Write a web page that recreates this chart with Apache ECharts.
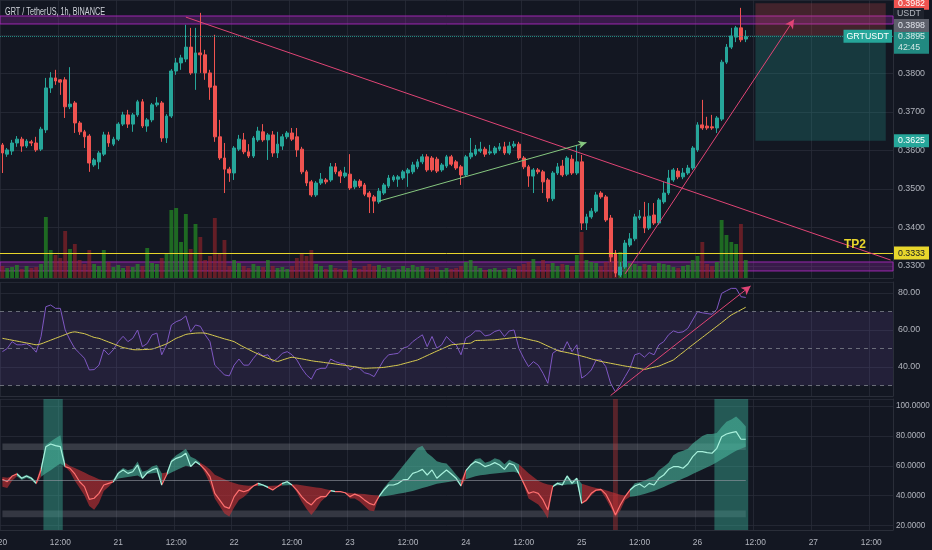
<!DOCTYPE html>
<html><head><meta charset="utf-8">
<script src="https://cdn.jsdelivr.net/npm/echarts@6/dist/echarts.min.js"></script>
<style>html,body{margin:0;padding:0;background:#131722;}#c{width:932px;height:550px;}</style>
</head><body><div id="c"></div>
<script>
const dayLabels = ['20','21','22','23','24','25','26','27'];
const slotCount = 185;

// [open, close, low, high]
const candles = [
[0.3614,0.3593,0.3541,0.3619],[0.3590,0.3601,0.3583,0.3606],[0.3598,0.3619,0.3588,0.3627],[0.3619,0.3629,0.3609,0.3637],[0.3629,0.3611,0.3596,0.3635],
[0.3611,0.3624,0.3606,0.3629],[0.3622,0.3619,0.3611,0.3627],[0.3619,0.3601,0.3596,0.3635],[0.3603,0.3655,0.3598,0.3661],[0.3653,0.3762,0.3645,0.3788],
[0.3762,0.3788,0.3749,0.3803],[0.3788,0.3780,0.3770,0.3809],[0.3783,0.3777,0.3744,0.3785],[0.3783,0.3713,0.3684,0.3790],[0.3713,0.3720,0.3707,0.3816],
[0.3723,0.3671,0.3645,0.3728],[0.3671,0.3648,0.3640,0.3676],[0.3648,0.3635,0.3606,0.3653],[0.3637,0.3567,0.3544,0.3642],[0.3562,0.3575,0.3557,0.3580],
[0.3570,0.3593,0.3551,0.3598],[0.3590,0.3640,0.3585,0.3648],[0.3640,0.3619,0.3609,0.3648],[0.3616,0.3629,0.3611,0.3635],[0.3629,0.3668,0.3624,0.3673],
[0.3668,0.3692,0.3663,0.3700],[0.3692,0.3668,0.3658,0.3705],[0.3668,0.3692,0.3648,0.3697],[0.3692,0.3726,0.3687,0.3731],[0.3726,0.3663,0.3658,0.3733],
[0.3663,0.3679,0.3648,0.3684],[0.3679,0.3718,0.3673,0.3723],[0.3718,0.3723,0.3713,0.3738],[0.3723,0.3632,0.3622,0.3728],[0.3632,0.3689,0.3619,0.3694],
[0.3689,0.3806,0.3684,0.3811],[0.3806,0.3827,0.3796,0.3840],[0.3827,0.3840,0.3809,0.3848],[0.3837,0.3868,0.3829,0.3926],[0.3868,0.3801,0.3796,0.3918],
[0.3801,0.3853,0.3757,0.3918],[0.3853,0.3848,0.3801,0.3957],[0.3848,0.3801,0.3783,0.3861],[0.3801,0.3764,0.3731,0.3809],[0.3767,0.3635,0.3622,0.3900],
[0.3635,0.3580,0.3575,0.3679],[0.3580,0.3551,0.3489,0.3619],[0.3551,0.3541,0.3518,0.3557],[0.3541,0.3606,0.3523,0.3611],[0.3603,0.3629,0.3598,0.3640],
[0.3627,0.3596,0.3590,0.3645],[0.3596,0.3585,0.3580,0.3616],[0.3585,0.3632,0.3580,0.3637],[0.3627,0.3650,0.3622,0.3661],[0.3648,0.3627,0.3622,0.3668],
[0.3627,0.3640,0.3575,0.3645],[0.3640,0.3593,0.3583,0.3650],[0.3593,0.3616,0.3580,0.3648],[0.3611,0.3635,0.3601,0.3642],[0.3635,0.3645,0.3629,0.3650],
[0.3645,0.3629,0.3624,0.3658],[0.3635,0.3601,0.3583,0.3658],[0.3603,0.3544,0.3538,0.3609],[0.3544,0.3515,0.3507,0.3549],[0.3518,0.3484,0.3479,0.3523],
[0.3484,0.3515,0.3479,0.3520],[0.3515,0.3525,0.3510,0.3541],[0.3523,0.3518,0.3512,0.3528],[0.3523,0.3557,0.3518,0.3567],[0.3557,0.3544,0.3538,0.3567],
[0.3544,0.3533,0.3515,0.3549],[0.3533,0.3541,0.3528,0.3557],[0.3538,0.3502,0.3497,0.3590],[0.3505,0.3520,0.3499,0.3525],[0.3520,0.3507,0.3502,0.3525],
[0.3510,0.3486,0.3481,0.3515],[0.3489,0.3479,0.3437,0.3494],[0.3479,0.3468,0.3437,0.3484],[0.3466,0.3494,0.3461,0.3502],[0.3489,0.3510,0.3484,0.3515],
[0.3507,0.3528,0.3502,0.3536],[0.3523,0.3531,0.3518,0.3536],[0.3525,0.3531,0.3505,0.3536],[0.3528,0.3544,0.3523,0.3549],[0.3541,0.3549,0.3505,0.3554],
[0.3544,0.3562,0.3538,0.3570],[0.3557,0.3570,0.3551,0.3577],[0.3570,0.3583,0.3564,0.3590],[0.3583,0.3549,0.3544,0.3590],[0.3580,0.3549,0.3544,0.3585],
[0.3577,0.3546,0.3541,0.3583],[0.3549,0.3562,0.3544,0.3567],[0.3559,0.3583,0.3554,0.3588],[0.3583,0.3564,0.3559,0.3588],[0.3570,0.3554,0.3549,0.3575],
[0.3557,0.3536,0.3510,0.3562],[0.3536,0.3583,0.3531,0.3588],[0.3583,0.3593,0.3577,0.3632],[0.3590,0.3603,0.3585,0.3614],[0.3598,0.3603,0.3593,0.3622],
[0.3603,0.3590,0.3583,0.3609],[0.3593,0.3596,0.3588,0.3614],[0.3593,0.3606,0.3588,0.3611],[0.3603,0.3609,0.3598,0.3619],[0.3609,0.3593,0.3588,0.3622],
[0.3593,0.3611,0.3588,0.3622],[0.3611,0.3616,0.3606,0.3624],[0.3616,0.3580,0.3575,0.3622],[0.3580,0.3557,0.3551,0.3585],[0.3557,0.3533,0.3505,0.3562],
[0.3533,0.3549,0.3489,0.3554],[0.3549,0.3544,0.3538,0.3554],[0.3544,0.3518,0.3489,0.3549],[0.3523,0.3476,0.3466,0.3528],[0.3474,0.3541,0.3468,0.3546],
[0.3541,0.3557,0.3536,0.3567],[0.3559,0.3536,0.3531,0.3575],[0.3538,0.3580,0.3533,0.3585],[0.3577,0.3541,0.3536,0.3588],[0.3541,0.3570,0.3536,0.3614],
[0.3570,0.3411,0.3393,0.3588],[0.3411,0.3427,0.3393,0.3435],[0.3427,0.3442,0.3422,0.3450],[0.3442,0.3484,0.3437,0.3492],[0.3489,0.3479,0.3474,0.3494],
[0.3479,0.3419,0.3414,0.3484],[0.3424,0.3323,0.3310,0.3432],[0.3333,0.3281,0.3271,0.3341],[0.3276,0.3297,0.3271,0.3310],[0.3297,0.3359,0.3292,0.3367],
[0.3354,0.3370,0.3349,0.3385],[0.3370,0.3427,0.3364,0.3435],[0.3424,0.3429,0.3419,0.3445],[0.3427,0.3398,0.3385,0.3466],[0.3398,0.3429,0.3393,0.3463],
[0.3432,0.3411,0.3406,0.3463],[0.3411,0.3471,0.3406,0.3476],[0.3466,0.3489,0.3461,0.3518],[0.3489,0.3528,0.3484,0.3549],[0.3523,0.3549,0.3518,0.3554],
[0.3546,0.3531,0.3525,0.3554],[0.3531,0.3541,0.3525,0.3554],[0.3541,0.3554,0.3536,0.3562],[0.3554,0.3606,0.3549,0.3611],[0.3601,0.3666,0.3596,0.3673],
[0.3666,0.3658,0.3653,0.3731],[0.3663,0.3658,0.3653,0.3687],[0.3661,0.3658,0.3653,0.3692],[0.3658,0.3684,0.3645,0.3689],[0.3681,0.3829,0.3676,0.3835],
[0.3829,0.3868,0.3824,0.3876],[0.3868,0.3897,0.3863,0.3918],[0.3894,0.3918,0.3881,0.3923],[0.3918,0.3887,0.3881,0.3970],[0.3889,0.3895,0.3881,0.3912]
];

const volumes = [
120,100,110,130,90,120,100,110,140,610,
280,230,200,470,290,340,180,140,280,140,
120,280,160,110,130,100,120,110,140,120,
300,150,140,200,250,680,700,360,640,290,
540,410,180,220,600,250,380,120,180,150,
120,100,140,120,110,180,120,100,110,90,
120,200,240,220,280,140,120,90,130,100,
90,80,180,100,90,120,140,120,130,100,
110,80,90,120,100,130,110,120,100,90,
110,80,100,90,100,120,160,180,120,100,
80,90,100,80,90,100,90,120,140,160,
190,120,180,140,150,120,140,130,120,230,
460,180,160,150,120,160,390,230,260,220,
150,140,120,140,130,120,150,140,130,110,
100,120,130,180,220,360,140,120,160,580,
430,360,340,540,180
];

const rsi = [
48.3,50,53.7,52,52,52.5,51,48,56.4,72.6,
73.5,71.7,71.7,60,54.6,50,47.4,44.7,38.4,38.6,
41,49.4,46.6,49.4,53.7,56.6,53.7,55.5,60,51,
52.7,57.4,58.3,46.6,52,62.7,64.5,65.5,67.6,59,
62.7,62,57.4,53.7,41,38.4,35.7,35.2,41,44.3,
41,41,44.7,47.8,46,46.6,42.9,44.7,47.4,48.3,
46.6,43.8,39.3,35.7,33.4,38.4,39.3,39.3,44.3,42.9,
42,41.6,38.4,40.2,39.3,36.9,36.2,34.8,39.3,43.8,
46.6,47,47.4,50.2,51,53.7,55.6,57.4,51,56.5,
50.2,52,56.5,53.7,52,46.6,55.6,57.1,59.5,59.5,
56.8,57.4,59.2,60,56.5,59.5,60,50,44.7,40.2,
42.9,41,36.6,31.2,47.4,49.3,48.3,53.7,48.3,52,
34,35.7,38.4,43.8,43.8,40.2,31.2,26.6,30.3,34.8,
39.3,46.6,47.4,45.3,47.8,46.6,52,53.7,57.4,59.5,
58.6,59,60.9,65.4,69.9,69.3,68.9,68.5,71.2,79.8,
81.2,82.5,82.5,78,77.6
];

const rsiMA = [
55.5,55,54.5,54,53.5,53,52.5,52,52.5,53.5,
54.5,55.5,56.5,57.5,58.5,59,58.5,58,57,56,
55.5,54.5,53.5,52.5,51.5,50.5,50,49.4,49.3,49.4,
49.5,49.7,50.5,51.5,52.5,54,55.5,56.5,57.6,58,
58.3,58.4,58.3,57.6,56.8,56,55.2,54.5,53.7,52.2,
50.8,49.5,48.2,47,45.8,44.7,43.8,43,43.8,44.6,
45.3,44.8,44.4,43.9,43.4,43,42.7,42.3,42,41.6,
41.2,40.9,40.5,40.1,39.7,39.3,39.4,39.5,39.6,39.8,
40.2,40.6,41,41.7,42.4,43.1,43.8,45,46.2,47.4,
48.6,49.7,50.9,52,52.2,52.5,52.7,52.9,54.3,54.4,
54.5,54.6,54.7,55,55.3,55.6,55.9,56.1,55.5,54.9,
54.3,53.7,52.5,51.3,50.1,48.9,48.3,47.8,47.2,46.6,
45.9,45.2,44.4,43.7,43,42.5,42,41.5,41,40.5,
40.1,39.6,39.2,38.7,39.3,39.9,40.5,41.6,42.7,43.8,
45.9,47.9,50,52,54,56,58,60,62,64,
66.1,68.1,69.5,70.9,72.3
];

const osc = [
50.9,49.3,53.1,54.5,51.6,53.1,51.6,48.2,57.2,72.8,
74.6,73.5,72.8,59.4,58.3,54.5,49.3,46,37.5,38.2,
41.5,47.1,48.2,49.3,54.9,57.2,54.9,56,60.5,51.6,
55.4,57.2,58.3,47.1,53.8,62.8,65,66.1,68.4,59.4,
62.8,60.5,57.2,52.7,41.5,37.1,32.6,31.4,39.3,43.7,
42.6,43.7,46.4,48.2,47.1,45.5,43.7,46,48.2,49.3,
47.1,43.7,39.3,35.9,33.7,37.5,39.3,39.3,43.3,42.6,
42.6,41.9,39.3,41,39.7,37.1,34.8,33.7,39.3,43.7,
47.1,47.1,48.2,50.5,50.9,54.9,56,57.6,53.8,57.2,
51.6,54.5,57.2,54.5,51.6,46.4,56.7,60.5,62.8,61.6,
59.4,60.5,62.1,60.5,57.6,61.6,60.5,54.9,48.2,41.5,
42.6,41.5,37.1,30.3,46,48.2,47.1,53.1,48.2,51.6,
34.8,37.1,41.5,43.7,44.2,41,34.8,27,33.7,39.3,
43.7,46.4,47.8,45.5,48.2,47.1,51.6,53.8,57.6,59.4,
59.4,58.3,61.2,66.1,69.5,69.5,68.8,68.4,71.7,79.5,
81.3,82.2,82.9,77.8,77.8
];

const oscLo = [
46,45,50,53,50.5,52,50.5,47.5,52.7,54.9,
57,59.4,61.6,59.4,56,50,45,40,33,30.5,
35,43,46,49.3,51.5,52,52.5,53,53.5,51.6,
54.5,55,55.3,47.1,53.8,55.5,57,58.5,60,59.4,
62,60.5,55,48,38,33,28,26,32,37,
39,42,46.4,46.5,46.5,45.5,43.7,46,46.8,47,
47.1,42,36,31,27,31,36,39,43,42.6,
42.5,41.9,38,38,36,33,30,29.5,39.3,39.6,
40,40.6,41.2,41.8,42.4,43,44,45,46,47,
48,48.5,49,49.5,50,46.4,51,52,53,53.6,
54,54.4,54.8,55.2,55.5,55.8,56,54.9,47,38,
36,34,30,24.7,46,47,47,47.5,47.5,48,
34.8,36,40,43,43,38,32,25.8,30,37,
39.2,39.5,40.3,41.1,42,43,44.4,45.8,47.2,48.6,
50,51.4,52.8,54.5,56,57.5,59,60.5,62.4,64.3,
66.2,68.2,70,71.5,72.8
];

const oscHi = [
52.5,52,53,55.5,52.5,54,52.5,49.5,60,74,
76.2,78.4,80.5,62,59.8,58.5,57,55.5,53.8,52.5,
50.9,50.3,49.8,51,56,58.5,57,58,62.8,56,
57,59.5,60.5,55,55.5,64,67,69,71.5,66,
64.5,62,60,57.5,54,52.5,51,49.5,48.5,47.5,
47,46.6,46.8,48.5,47.5,46.5,46.6,46.7,48.5,50,
47.5,47.5,47,46.5,46,45.5,45,44.2,43.5,43,
42.8,42.2,41.7,41.4,41.2,41,40.6,40.2,40,45,
49,52,56,60,64,68,72,73.5,68.5,66,
63,62,61.5,58,54,50.5,56.7,61,64.5,65,
62,63,65,64,61,64,62.5,61,58,55,
52.5,50,48.5,47.5,47,49,49,53.8,50,52,
48,47,46,45,44.5,43.5,42.5,41.5,40.5,40,
44,48.2,49,50,51.6,53,57,59.4,62,67,
69,70,71.5,75,77.5,80,81.3,81.3,82,86,
89.6,91,93,90,86.3
];

// [fromIndex, toIndex, direction] : 1 = bullish, 0 = bearish
const oscRegimes = [
[0,2.5,0],[2.5,6.5,1],[6.5,7.5,0],[7.5,13,1],[13,22.5,0],[22.5,32.5,1],[32.5,33.5,0],
[33.5,40.5,1],[40.5,52.5,0],[52.5,54.5,1],[54.5,57.5,0],[57.5,59.5,1],[59.5,67.5,0],
[67.5,68.5,1],[68.5,77.5,0],[77.5,94.5,1],[94.5,95.5,0],[95.5,106.5,1],[106.5,113.5,0],
[113.5,119.5,1],[119.5,129.5,0],[129.5,200,1]
];
// highlighted bars in the oscillator pane [from, to, direction]
const oscHighlights = [[9,12,1],[127,127,0],[148,154,1]];

// drawings (bar index, price)
const downTrend = [[38,0.3946],[184,0.3315]];
const upTrend = [[129,0.3279],[164,0.3940]];
const channelLine = [[78,0.3468],[121,0.3620]];
const rsiTrend = [[126,24.6],[155,83.8]];
const topZone = [0.39281,0.39488];
const bottomZone = [0.32866,0.33099];
const shortBox = {from:156, to:183, stop:0.3982, entry:0.3898, target:0.3625};
const lastPrice = 0.3895, tp2 = 0.3333;

// ---- fonts: pick a narrow face if really installed, then size text to the reference widths ----
const mctx = document.createElement('canvas').getContext('2d');
function textW(str, px, font) { mctx.font = px + 'px ' + font; return mctx.measureText(str).width; }
const baseW = textW('GRT / TetherUS 0.3895', 20, "'Liberation Sans'");
const narrowName = ['Liberation Sans Narrow', 'Arial Narrow', 'DejaVu Sans Condensed']
  .find(n => textW('GRT / TetherUS 0.3895', 20, "'" + n + "', 'Liberation Sans'") < 0.9 * baseW);
const FONT = narrowName ? "'" + narrowName + "', 'Liberation Sans', sans-serif" : "'Liberation Sans', Arial, sans-serif";
function fitSize(sample, targetW, maxPx) { return Math.min(maxPx, +(10 * targetW / textW(sample, 10, FONT)).toFixed(2)); }
const FS = {
  ax: fitSize('0.3800', 27, 10.5),
  osc: fitSize('100.0000', 34, 10.5),
  tag: fitSize('0.3800', 27, 10.5),
  x: fitSize('12:00', 21, 11),
  tp: fitSize('TP2', 22, 15),
  sx: Math.min(1, 100 / textW('GRT / TetherUS, 1h, BINANCE', 11, FONT))
};

const categories = [];
for (let i = 0; i < slotCount; i++) {
  const d = dayLabels[Math.floor(i / 24)], h = i % 24;
  categories.push(h === 0 ? d : (h === 12 ? '12:00' : d + ' ' + h + ':00'));
}

const UP = '#26a69a', DN = '#ef5350';
const AX = '#b2b5be', GRIDC = 'rgba(42,46,57,0.75)', SEP = '#2a2e39';
const HIDE = 'rgba(0,0,0,0)';
const every12 = (i) => i % 12 === 0;

function xAx(gi, showLabel) {
  return {
    type: 'category', gridIndex: gi, data: categories, boundaryGap: true,
    axisLine: { show: gi !== 1, lineStyle: { color: SEP } },
    axisTick: { show: false },
    axisLabel: { show: showLabel, interval: every12, color: AX, fontSize: FS.x, fontFamily: FONT, margin: 9 },
    splitLine: { show: gi !== 1, interval: every12, lineStyle: { color: GRIDC } }
  };
}
function yAx(gi, min, max, step, digits, fs, margin) {
  return {
    type: 'value', gridIndex: gi, position: 'right', min: min, max: max,
    minInterval: step, maxInterval: step, splitNumber: Math.round((max - min) / step),
    axisLine: { show: true, lineStyle: { color: SEP } }, axisTick: { show: false },
    axisLabel: { color: AX, fontSize: fs, fontFamily: FONT, margin: margin, showMinLabel: false, showMaxLabel: false,
      formatter: (v) => v.toFixed(digits) },
    splitLine: { show: true, lineStyle: { color: GRIDC } }
  };
}

function tag(value, text, bg, fg, extra) {
  return {
    yAxis: value,
    lineStyle: { color: HIDE, width: 1 },
    label: Object.assign({ show: true, position: 'end', formatter: text, backgroundColor: bg, color: fg,
      fontFamily: FONT, fontSize: FS.tag, padding: [2, 3], distance: 1 }, extra || {})
  };
}

const volData = volumes.map((v, i) => ({
  value: v,
  itemStyle: { color: candles[i][1] >= candles[i][0] ? 'rgba(34,139,34,0.72)' : 'rgba(150,36,40,0.62)' }
}));
const bandData = oscHi.map((h, i) => +(h - oscLo[i]).toFixed(2));

const fillPieces = oscRegimes.map(r => ({ gte: r[0], lt: r[1], color: r[2] ? 'rgba(72,180,155,0.62)' : 'rgba(196,48,52,0.62)' }));
const linePieces = oscRegimes.map(r => ({ gte: r[0], lt: r[1], color: r[2] ? '#a8f0dc' : '#ff6f6f' }));

const trendStyle = { color: '#e04475', width: 1, type: 'solid' };
const gridBase = { left: 0, width: 893, containLabel: false, outerBoundsMode: 'none' };
const YEL = '#e8d62c';

const option = {
  backgroundColor: '#131722',
  animation: false,
  graphic: [
    { type: 'text', left: 5, top: 6, z: 100, scaleX: FS.sx,
      style: { text: 'GRT / TetherUS, 1h, BINANCE', fill: '#d1d4dc', font: '11px ' + FONT } },
    { type: 'text', right: 8, top: 8, z: 100,
      style: { text: 'USDT', fill: AX, font: FS.tag + 'px ' + FONT, backgroundColor: '#1e222d', padding: [1, 3] } }
  ],
  grid: [
    Object.assign({ top: 0, height: 278 }, gridBase),
    Object.assign({ top: 0, height: 278 }, gridBase),
    Object.assign({ top: 282, height: 114 }, gridBase),
    Object.assign({ top: 399, height: 131 }, gridBase)
  ],
  xAxis: [xAx(0, false), xAx(1, false), xAx(2, false), xAx(3, true)],
  yAxis: [
    yAx(0, 0.32683, 0.39904, 0.01, 4, FS.ax, 5),
    { type: 'value', gridIndex: 1, show: false, min: 0, max: 2780, splitLine: { show: false } },
    yAx(2, 24.32, 85.95, 20, 2, FS.ax, 5),
    yAx(3, 16.9, 104.8, 20, 4, FS.osc, 3)
  ],
  visualMap: [
    { show: false, type: 'piecewise', seriesIndex: 6, dimension: 0, pieces: fillPieces },
    { show: false, type: 'piecewise', seriesIndex: 7, dimension: 0, pieces: linePieces }
  ],
  series: [
    {
      type: 'candlestick', name: 'GRTUSDT', xAxisIndex: 0, yAxisIndex: 0, data: candles, z: 3,
      barWidth: '68%', clip: false,
      itemStyle: { color: UP, color0: DN, borderColor: UP, borderColor0: DN, borderWidth: 1 },
      markArea: {
        silent: true,
        data: [
          [{ yAxis: topZone[0], itemStyle: { color: 'rgba(156,39,176,0.28)', borderColor: '#9c27b0', borderWidth: 1 } }, { yAxis: topZone[1] }],
          [{ yAxis: bottomZone[0], itemStyle: { color: 'rgba(156,39,176,0.28)', borderColor: '#9c27b0', borderWidth: 1 } }, { yAxis: bottomZone[1] }],
          [{ xAxis: shortBox.from, yAxis: shortBox.stop, itemStyle: { color: 'rgba(239,83,80,0.22)' } }, { xAxis: shortBox.to, yAxis: shortBox.entry }],
          [{ xAxis: shortBox.from, yAxis: shortBox.entry, itemStyle: { color: 'rgba(38,166,154,0.24)' } }, { xAxis: shortBox.to, yAxis: shortBox.target }]
        ]
      },
      markLine: {
        silent: true, symbol: ['none', 'none'], label: { show: false }, precision: 6,
        data: [
          { yAxis: lastPrice, lineStyle: { color: UP, type: 'dotted', width: 1, opacity: 0.8 },
            label: { show: true, position: 'end', formatter: lastPrice.toFixed(4) + '\n42:45', backgroundColor: UP, color: '#fff',
              fontFamily: FONT, fontSize: FS.tag, lineHeight: 11, padding: [1, 4], distance: 1, offset: [0, 5] } },
          tag(lastPrice, 'GRTUSDT', UP, '#fff', { position: 'insideEndTop', distance: 1, offset: [0, 7], padding: [2, 3] }),
          tag(0.3898, '0.3898', '#5d606b', '#e0e3eb', { offset: [0, -10], padding: [2, 4] }),
          tag(shortBox.target, shortBox.target.toFixed(4), UP, '#fff', { padding: [2, 4] }),
          tag(shortBox.stop, shortBox.stop.toFixed(4), DN, '#fff', { padding: [2, 4] }),
          { yAxis: tp2, lineStyle: { color: YEL, width: 1, type: 'solid', opacity: 1 },
            label: { show: true, position: 'end', formatter: tp2.toFixed(4), backgroundColor: YEL, color: '#131722',
              fontFamily: FONT, fontSize: FS.tag, padding: [2, 4], distance: 1 } },
          tag(tp2, 'TP2', HIDE, YEL, { position: 'insideEndTop', fontSize: FS.tp, fontWeight: 'bold', padding: 0, distance: 5, offset: [-22, 3] }),
          [{ coord: downTrend[0], lineStyle: trendStyle }, { coord: downTrend[1] }],
          [{ coord: upTrend[0], lineStyle: trendStyle }, { coord: upTrend[1], symbol: 'arrow', symbolSize: [7, 9] }],
          [{ coord: channelLine[0], lineStyle: { color: '#86c77f', width: 1, type: 'solid' } }, { coord: channelLine[1], symbol: 'arrow', symbolSize: [6, 8] }]
        ]
      }
    },
    { type: 'bar', name: 'Volume', xAxisIndex: 1, yAxisIndex: 1, data: volData, barWidth: '80%', z: 1, silent: true },
    {
      type: 'line', name: 'RSI', xAxisIndex: 2, yAxisIndex: 2, data: rsi, symbol: 'none', z: 3, clip: false,
      lineStyle: { color: '#7e57c2', width: 1 },
      markArea: { silent: true, data: [[{ yAxis: 30, itemStyle: { color: 'rgba(126,87,194,0.15)' } }, { yAxis: 70 }]] },
      markLine: {
        silent: true, symbol: ['none', 'none'], label: { show: false }, precision: 6,
        lineStyle: { color: 'rgba(120,123,134,0.85)', type: [4, 4], width: 1 },
        data: [{ yAxis: 70 }, { yAxis: 50 }, { yAxis: 30 },
          [{ coord: rsiTrend[0], lineStyle: trendStyle }, { coord: rsiTrend[1], symbol: 'arrow', symbolSize: [7, 9] }]]
      }
    },
    { type: 'line', name: 'RSI MA', xAxisIndex: 2, yAxisIndex: 2, data: rsiMA, symbol: 'none', z: 3, smooth: 0.3,
      lineStyle: { color: '#d8cb50', width: 1 } },
    {
      type: 'custom', name: 'Highlights', xAxisIndex: 3, yAxisIndex: 3, data: oscHighlights, z: 1, silent: true,
      encode: { x: [0, 1] },
      renderItem: (params, api) => {
        const cs = params.coordSys;
        const a = api.coord([api.value(0), 50])[0];
        const b = api.coord([api.value(1), 50])[0];
        const w = api.size([1, 0])[0];
        return { type: 'rect', shape: { x: a - w / 2, y: cs.y, width: b - a + w, height: cs.height },
          style: { fill: api.value(2) ? 'rgba(58,170,148,0.45)' : 'rgba(200,55,55,0.38)' } };
      }
    },
    { type: 'line', name: 'band base', xAxisIndex: 3, yAxisIndex: 3, data: oscLo, stack: 'band', symbol: 'none', z: 2,
      lineStyle: { opacity: 0 }, silent: true },
    { type: 'line', name: 'band', xAxisIndex: 3, yAxisIndex: 3, data: bandData, stack: 'band', symbol: 'none', z: 2,
      lineStyle: { opacity: 0 }, areaStyle: { opacity: 1 }, silent: true },
    {
      type: 'line', name: 'Oscillator', xAxisIndex: 3, yAxisIndex: 3, data: osc, symbol: 'none', z: 4,
      lineStyle: { width: 1.2 },
      markArea: { silent: true, data: [
        [{ xAxis: 0, yAxis: 70.6, itemStyle: { color: 'rgba(150,153,163,0.28)' } }, { xAxis: 154, yAxis: 75 }],
        [{ xAxis: 0, yAxis: 25.4, itemStyle: { color: 'rgba(150,153,163,0.25)' } }, { xAxis: 154, yAxis: 30 }]
      ] },
      markLine: { silent: true, symbol: ['none', 'none'], label: { show: false }, precision: 6,
        lineStyle: { color: 'rgba(150,153,163,0.6)', type: 'solid', width: 1 },
        data: [[{ coord: [0, 50] }, { coord: [154, 50] }]] }
    }
  ]
};

const chart = echarts.init(document.getElementById('c'), null, { renderer: 'canvas' });
chart.setOption(option);
</script>
</body></html>
